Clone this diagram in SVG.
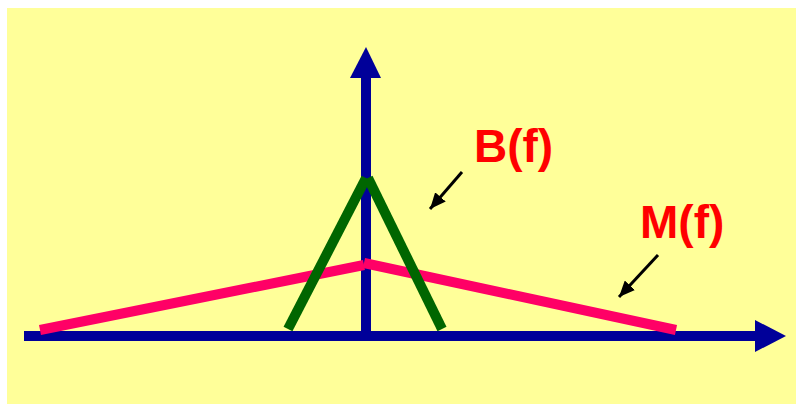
<svg xmlns="http://www.w3.org/2000/svg" width="800" height="404" viewBox="0 0 800 404">
<style>
.axis{stroke:#000099;stroke-width:10;fill:none}
.head{fill:#000099}
.m{stroke:#FF0066;stroke-width:10;fill:none}
.b{stroke:#006600;stroke-width:10;fill:none}
.ptr{stroke:#000000;stroke-width:3;fill:none}
.lbl{font-family:"Liberation Sans",Arial,sans-serif;font-weight:bold;font-size:46px;fill:#FF0000}
</style>
<defs>
<marker id="ah" markerUnits="userSpaceOnUse" markerWidth="18" markerHeight="14" refX="16" refY="7" orient="auto">
<path d="M0,0 L16,7 L0,14 Z" fill="#000000"/>
</marker>
</defs>
<rect x="7" y="8" width="789" height="396" fill="#FFFF99"/>
<g id="axes">
<line class="axis" x1="24" y1="336" x2="756" y2="336"/>
<polygon class="head" points="755,320 786,336 755,352"/>
<line class="axis" x1="366" y1="336" x2="366" y2="77"/>
<polygon class="head" points="350,78 366,47 381,78"/>
</g>
<g id="M-curve">
<line class="m" x1="40" y1="330" x2="364" y2="265"/>
<line class="m" x1="364" y1="263" x2="676" y2="330"/>
</g>
<g id="B-curve">
<line class="b" x1="288" y1="329" x2="366" y2="178"/>
<line class="b" x1="368" y1="178" x2="442" y2="329"/>
</g>
<g id="connectors">
<line class="ptr" x1="462" y1="172" x2="430" y2="209" marker-end="url(#ah)"/>
<line class="ptr" x1="658" y1="255" x2="619" y2="297" marker-end="url(#ah)"/>
</g>
<g id="label-B"><text class="lbl" x="474" y="162">B(f)</text></g>
<g id="label-M"><text class="lbl" x="640" y="238">M(f)</text></g>
</svg>
